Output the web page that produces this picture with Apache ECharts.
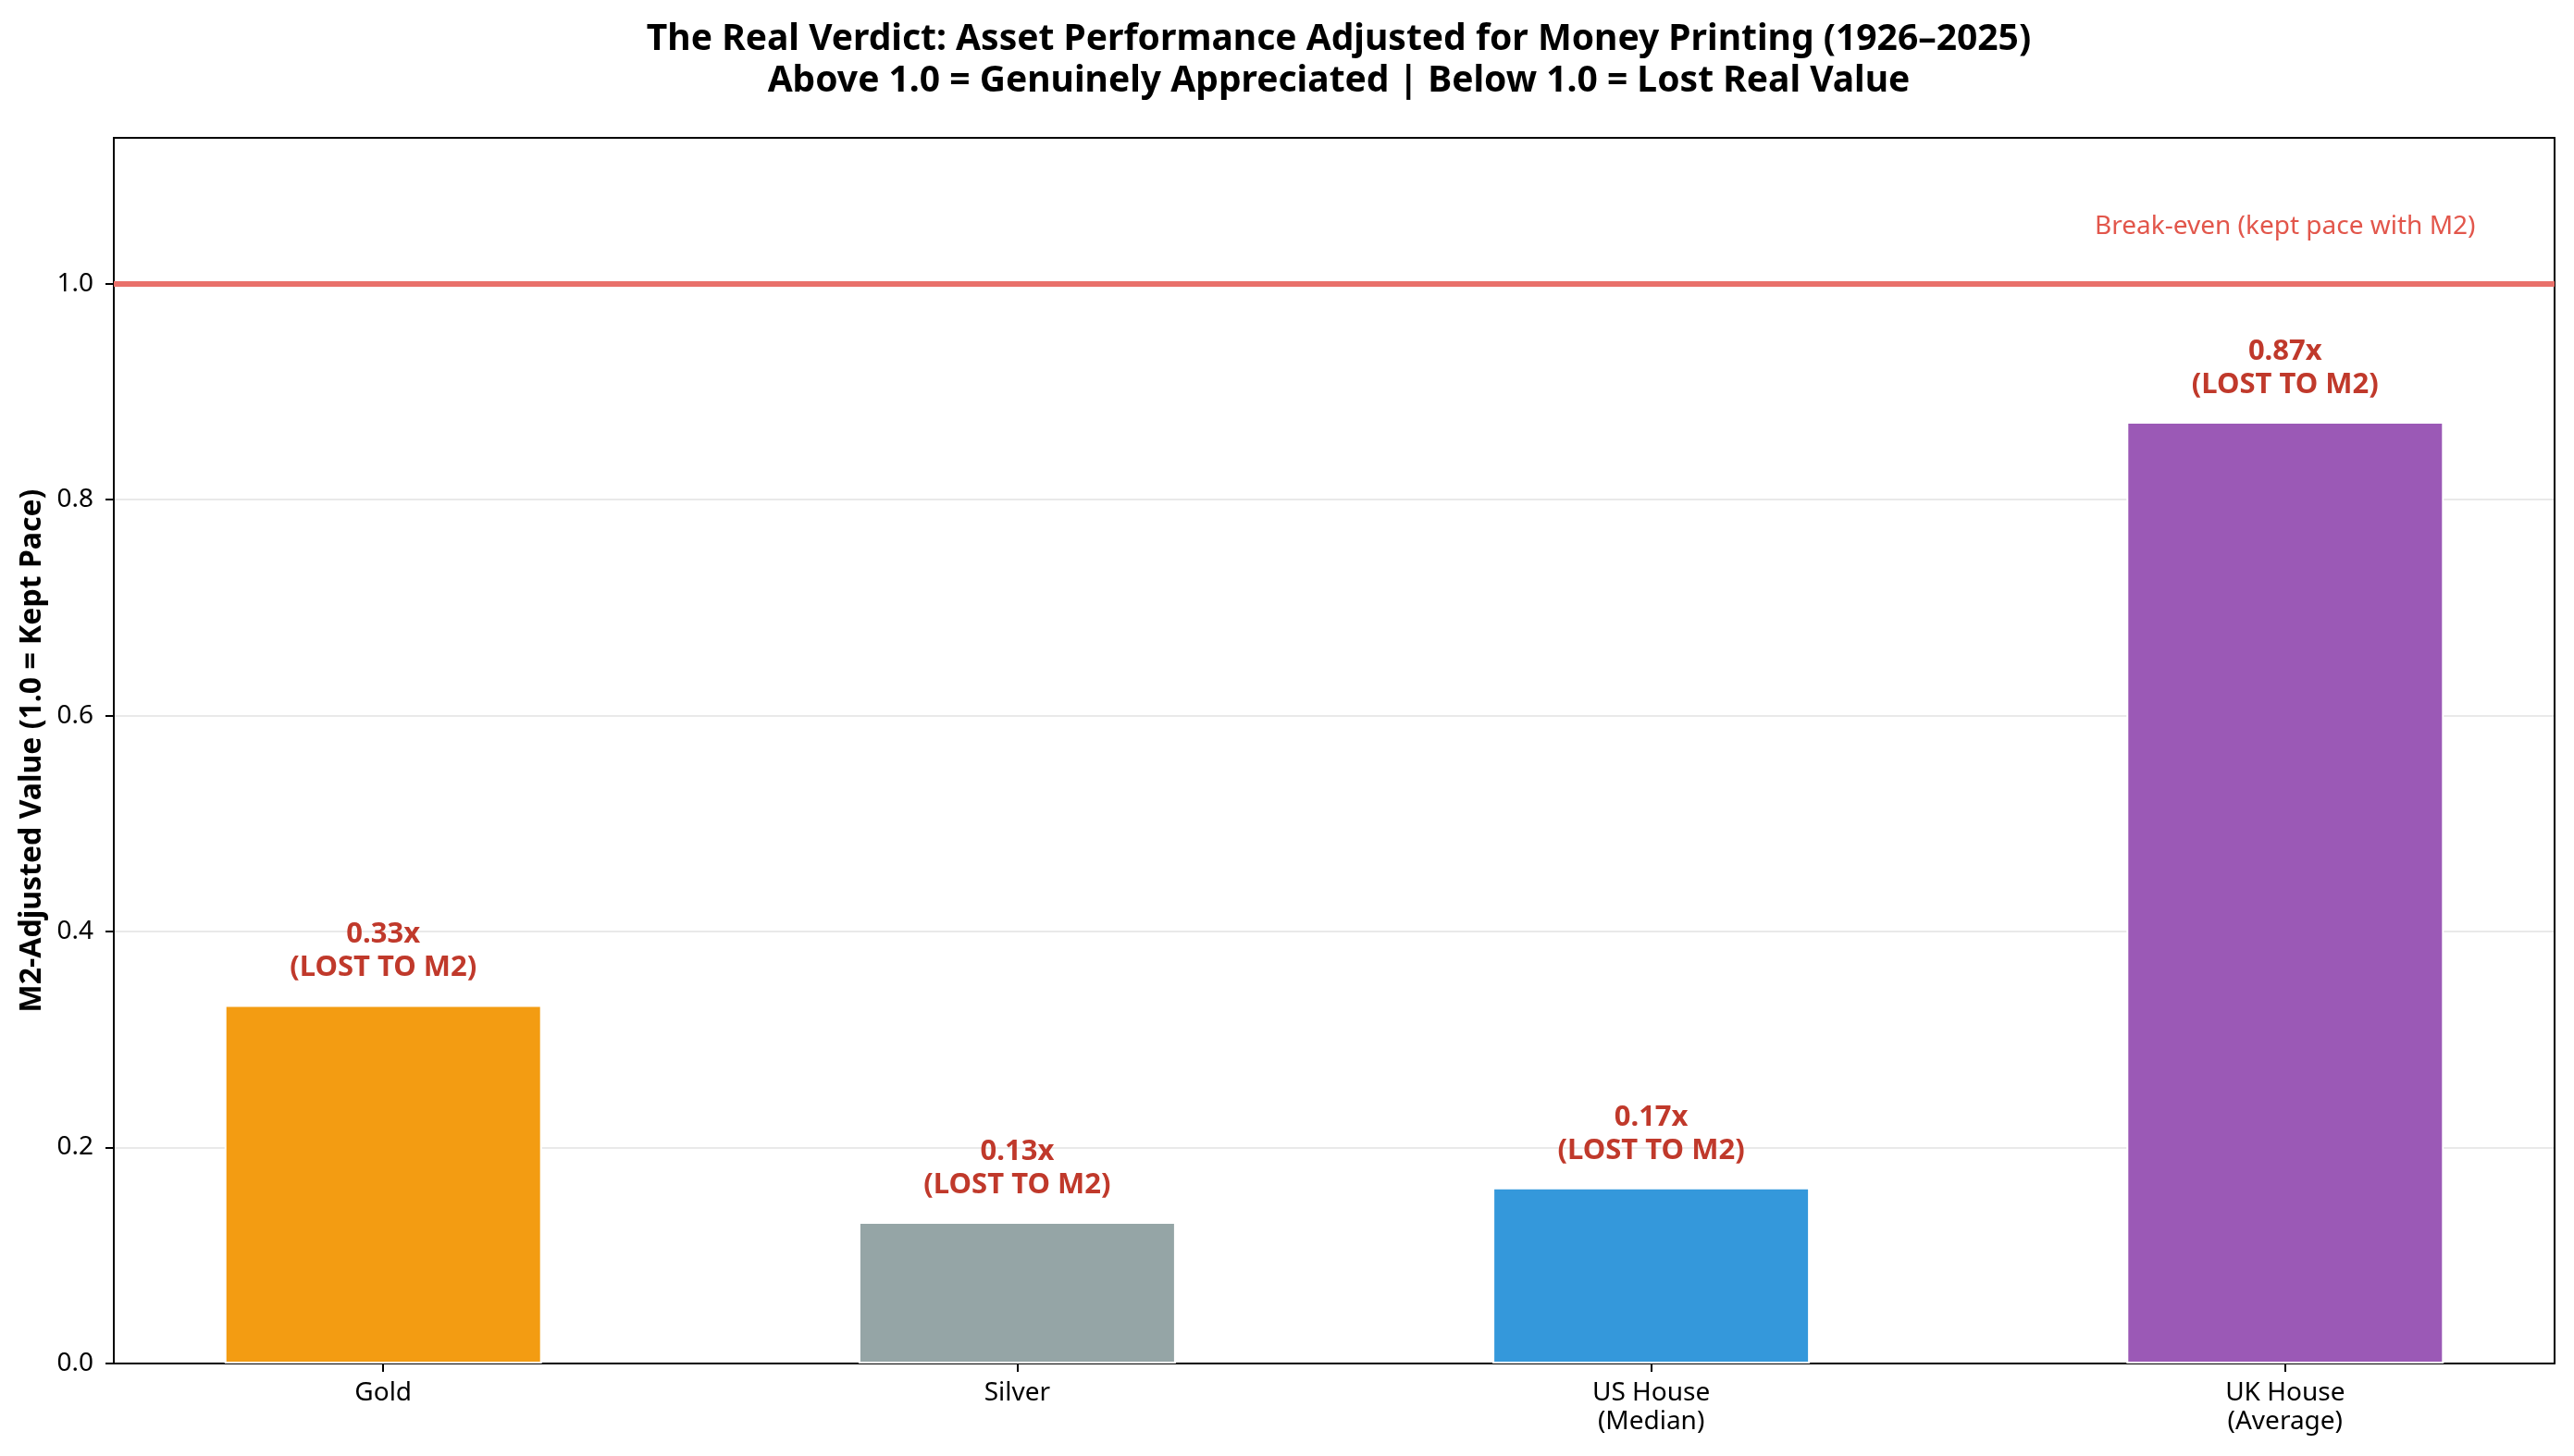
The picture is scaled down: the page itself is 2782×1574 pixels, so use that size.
<!DOCTYPE html>
<html>
<head>
<meta charset="utf-8">
<script src="https://cdn.jsdelivr.net/npm/echarts@6/dist/echarts.min.js"></script>
<style>
  html, body { margin: 0; padding: 0; background: #fff; }
  #chart { width: 2782px; height: 1574px; }
</style>
</head>
<body>
<div id="chart"></div>
<script>
// asset names shown under each bar
const assets = ["Gold", "Silver", "US House\n(Median)", "UK House\n(Average)"];
// M2-adjusted multiple
const m2Adjusted = [0.332, 0.131, 0.163, 0.872];
// rounded figures printed above the bars
const valueLabels = ["0.33", "0.13", "0.17", "0.87"];
const barColors = ["#f39c12", "#95a5a6", "#3498db", "#9b59b6"];
const yTicks = [0, 0.2, 0.4, 0.6, 0.8, 1.0];
const breakEven = 1.0;
const breakEvenText = "Break-even (kept pace with M2)";

const font = "Noto Sans";
const chart = echarts.init(document.getElementById("chart"));

const positions = assets.map((_, i) => i);
const titleStyle = {
	fontFamily: font,
	fontSize: 39,
	fontWeight: "bold",
	color: "#000",
	lineHeight: 45,
};
const spine = { show: true, onZero: false, lineStyle: { color: "#000", width: 2 } };

// titles centred over the plot area, like matplotlib does
const plotCenter = 123 + (2782 - 123 - 21) / 2;

chart.setOption({
	backgroundColor: "#fff",
	animation: false,
	textStyle: { fontFamily: font },
	title: [
		{
			text: "The Real Verdict: Asset Performance Adjusted for Money Printing (1926–2025)",
			left: plotCenter,
			textAlign: "center",
			top: 15,
			textStyle: titleStyle,
		},
		{
			text: "Above 1.0 = Genuinely Appreciated | Below 1.0 = Lost Real Value",
			left: plotCenter,
			textAlign: "center",
			top: 60,
			textStyle: titleStyle,
		},
	],
	grid: {
		left: 123,
		right: 21,
		top: 149,
		bottom: 100,
	},
	xAxis: [
		{
			type: "value",
			min: -0.425,
			max: 3.425,
			splitLine: { show: false },
			axisLine: spine,
			axisTick: {
				show: true,
				customValues: positions,
				length: 9,
				lineStyle: { color: "#000", width: 2 },
			},
			axisLabel: {
				customValues: positions,
				formatter: (v) => assets[Math.round(v)] || "",
				fontFamily: font,
				fontSize: 28,
				color: "#000",
				lineHeight: 31,
				margin: 17,
			},
		},
		{
			type: "value",
			position: "top",
			min: -0.425,
			max: 3.425,
			axisLine: spine,
			axisTick: { show: false },
			axisLabel: { show: false },
			splitLine: { show: false },
		},
	],
	yAxis: [
		{
			type: "value",
			min: 0,
			max: 1.135,
			interval: 0.2,
			name: "M2-Adjusted Value (1.0 = Kept Pace)",
			nameLocation: "middle",
			nameGap: 68,
			nameTextStyle: {
				fontFamily: font,
				fontSize: 32,
				fontWeight: "bold",
				color: "#000",
			},
			axisLine: spine,
			axisTick: { show: true, length: 9, lineStyle: { color: "#000", width: 2 } },
			axisLabel: {
				showMaxLabel: false,
				formatter: (v) => (yTicks.some((t) => Math.abs(t - v) < 1e-6) ? v.toFixed(1) : ""),
				fontFamily: font,
				fontSize: 28,
				color: "#000",
				margin: 22,
			},
			splitLine: { show: true, lineStyle: { color: "#e9e9e9", width: 2 } },
		},
		{
			type: "value",
			position: "right",
			min: 0,
			max: 1.135,
			axisLine: spine,
			axisTick: { show: false },
			axisLabel: { show: false },
			splitLine: { show: false },
		},
	],
	series: [
		{
			type: "bar",
			barWidth: 343,
			data: m2Adjusted.map((v, i) => ({
				value: [i, v],
				itemStyle: { color: barColors[i], borderColor: "#fff", borderWidth: 2 },
			})),
			label: {
				show: true,
				position: "top",
				distance: 22,
				formatter: (p) => valueLabels[p.dataIndex] + "x\n(LOST TO M2)",
				fontFamily: font,
				fontSize: 31,
				fontWeight: "bold",
				color: "#c0392b",
				lineHeight: 36,
				align: "center",
			},
			markLine: {
				silent: true,
				symbol: "none",
				label: { show: false },
				lineStyle: { color: "#e9706a", opacity: 1, width: 6, type: "solid" },
				data: [{ yAxis: breakEven }],
				z: 5,
			},
			markPoint: {
				silent: true,
				symbol: "circle",
				symbolSize: 0,
				data: [{ coord: [3, 1.053] }],
				label: {
					show: true,
					position: "inside",
					formatter: breakEvenText,
					fontFamily: font,
					fontSize: 28,
					color: "#e2564b",
				},
			},
		},
	],
});
</script>
</body>
</html>
